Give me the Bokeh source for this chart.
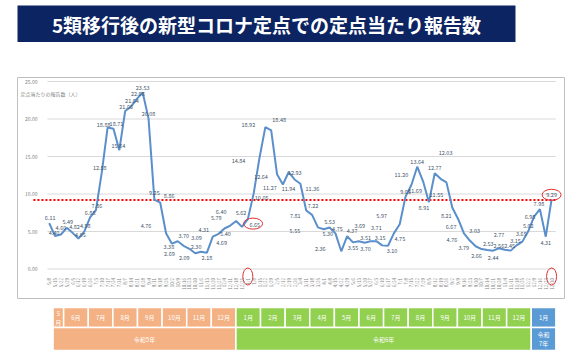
import pandas as pd
from bokeh.plotting import figure
from bokeh.layouts import column
from bokeh.models import (LinearAxis, FixedTicker, NumeralTickFormatter, Range1d,
                          ColumnDataSource)
from bokeh.core.properties import value
from bokeh.embed import file_html
from bokeh.resources import INLINE

FONT = "Noto Sans CJK JP"

# ---------------- data ----------------
title_text = "5類移行後の新型コロナ定点での定点当たり報告数"
axis_title = "定点当たりの報告数（人）"

values = [6.11, 4.40, 4.60, 5.49, 4.82, 4.05, 4.98, 6.88, 7.86, 12.88,
          18.88, 18.71, 15.84, 21.06, 21.64, 22.68, 23.53, 20.08, 9.25, 8.86,
          4.76, 3.38, 3.70, 3.09, 2.69, 2.09, 2.30, 2.18, 4.31, 4.69,
          5.40, 5.79, 6.40, 5.62, 6.65, 10.05, 14.84, 18.92, 18.48, 12.64,
          11.27, 12.93, 11.94, 11.36, 7.81, 7.22, 5.55, 5.30, 5.53, 4.75,
          2.36, 4.37, 3.55, 3.69, 3.51, 3.70, 3.71, 3.15, 3.10, 4.75,
          5.97, 9.65, 11.20, 13.64, 11.69, 8.91, 12.77, 12.03, 11.55, 8.21,
          6.67, 4.76, 3.79, 3.03, 2.66, 2.53, 2.44, 2.77, 2.56, 2.45,
          3.15, 3.65, 5.02, 6.98, 7.98, 4.31, 9.29]

week_start = pd.date_range("2023-05-08", periods=len(values), freq="7D")
tick_labels = [f"{d.month}/{d.day}" for d in week_start]
highlight_idx = [34, len(values) - 1]
threshold = 9.2
y_ticks = [0, 5, 10, 15, 20, 25]

months_r5 = ["5\n月", "6月", "7月", "8月", "9月", "10月", "11月", "12月"]
months_r6 = ["1月", "2月", "3月", "4月", "5月", "6月", "7月", "8月", "9月",
             "10月", "11月", "12月"]
months_r7 = ["1月"]
years = ["令和5年", "令和6年", "令和\n7年"]

# -------------- label placement (screen px offsets, layout only) -------
lbl_dx = [1, -1, 0, 1, 2, 2, 1, 0, 1, -2,
          -4, 3, -1, 1, 1, 1, 0, 0, 0, 9,
          -20, -3, 6, 13, -20, -11, -5, 0, -9, 3,
          1, -14, -15, -1, 7, 8, -21, -17, 8, -16,
          -13, 6, -6, 12, -11, 1, -23, 4, 0, 2,
          -21, 5, 0, 1, 1, -5, 0, -2, 4, 6,
          -18, 0, -10, 0, -8, -5, 0, 5, -10, -6,
          -7, -12, -6, -1, -5, 1, 0, 0, -6, -1,
          -1, -1, 0, -4, -1, 0, 0]
lbl_dy = [-6, -4, -7, -6, -6, -4, -6, -5, -5, -5,
          -3, -5, -5, -5, -6, -5, -5, -5, -7, -7,
          -8, 3, -6, -8, 5, 4, -5, 5, -7, 9,
          5, -8, -10, -14, 5, 4, 3, -3, -11, 2,
          3, 0, 9, 5, 5, -9, 3, 4, -6, -5,
          -3, -6, 5, -16, -5, 7, -14, -8, 5, 5,
          -9, -5, -11, -5, 9, 5, -6, -26, 12, 8,
          8, 6, 7, -16, 6, -7, 7, -14, -4, -5,
          -5, -8, -6, 0, -6, 6, -5]

LINE_COLOR = "#5a8fcb"
LABEL_COLOR = "#44546a"

xs = list(range(len(values)))
n = len(values)

# ---------------- title bar ----------------
pt = figure(width=520, height=42, x_range=Range1d(0, 1), y_range=Range1d(0, 1),
            output_backend="svg", toolbar_location=None,
            x_axis_type=None, y_axis_type=None,
            min_border_left=5, min_border_top=5, min_border_right=5,
            min_border_bottom=0, background_fill_color="#0c2461",
            border_fill_color="white", outline_line_color=None)
pt.grid.visible = False
pt.text(x=[0.5], y=[0.5], text=[title_text], text_align="center",
        text_baseline="middle", text_color="white", text_font_size="19px",
        text_font=value(FONT), text_font_style="bold")

# ---------------- main chart ----------------
sx = 5.895
sy = 7.5
x0_px = 32.0   # from frame left to first point
p = figure(width=569, height=264, output_backend="svg", toolbar_location=None,
           x_range=Range1d(-x0_px / sx, (552 - x0_px) / sx),
           y_range=Range1d(-29.5 / sy, 25 + 4.0 / sy),
           x_axis_type=None, y_axis_type=None,
           min_border_left=17, min_border_right=0, min_border_top=35,
           min_border_bottom=8, outline_line_color="#bfbfbf",
           background_fill_color="white", border_fill_color="white")
p.grid.visible = False

# gridlines
p.segment(x0=[-0.3] * len(y_ticks), x1=[n - 1 + 0.7] * len(y_ticks),
          y0=y_ticks, y1=y_ticks, line_color="#d9d9d9", line_width=1)

yaxis = LinearAxis(fixed_location=-0.3, ticker=FixedTicker(ticks=y_ticks),
                   formatter=NumeralTickFormatter(format="0.00"),
                   major_label_text_font_size="5px",
                   major_label_text_color="#7f7f7f",
                   major_label_text_font=FONT,
                   major_label_standoff=4,
                   axis_line_color=None, major_tick_line_color=None,
                   minor_tick_line_color=None)
p.add_layout(yaxis, "left")

xaxis = LinearAxis(fixed_location=0, ticker=FixedTicker(ticks=xs),
                   major_label_overrides={i: t for i, t in enumerate(tick_labels)},
                   major_label_orientation=1.5708,
                   major_label_text_font_size="4.5px",
                   major_label_text_color="#7f7f7f",
                   major_label_text_font=FONT,
                   major_label_standoff=3,
                   axis_line_color=None, major_tick_line_color=None,
                   minor_tick_line_color=None)
p.add_layout(xaxis, "below")

# threshold dotted red line
p.segment(x0=[-2.7], x1=[n - 1 + 1.0], y0=[threshold], y1=[threshold],
          line_color="#ff0000", line_width=2, line_dash="2 2")

p.line(xs, values, line_color=LINE_COLOR, line_width=2)

src = ColumnDataSource(dict(x=xs, y=values, t=[f"{v:.2f}" for v in values],
                            dx=lbl_dx, dy=lbl_dy))
p.text(x="x", y="y", text="t", x_offset="dx", y_offset="dy", source=src,
       text_align="center", text_baseline="middle", text_font_size="5.5px",
       text_color=LABEL_COLOR, text_font=value(FONT))

# axis title
p.text(x=[-4.9], y=[23.4], text=[axis_title], text_align="left",
       text_baseline="middle", text_font_size="5px", text_color="#7f7f7f",
       text_font=value(FONT))

# red highlight ellipses (labels and tick labels)
p.ellipse(x=[highlight_idx[0] + 0.9, highlight_idx[1]],
          y=[values[highlight_idx[0]] - 0.6, values[highlight_idx[1]] + 0.6],
          width=19, height=11, width_units="screen", height_units="screen",
          fill_color=None, line_color="#e03030", line_width=1)
p.ellipse(x=highlight_idx, y=[-1.0, -1.0], width=10, height=17,
          width_units="screen", height_units="screen",
          fill_color=None, line_color="#e03030", line_width=1)

# ---------------- month bar ----------------
unit = 25.6
start_px = 37.0
span5 = 0.43
cells, cols, lefts, rights = [], [], [], []
pos = 0.0
for yi, (mlist, col) in enumerate([(months_r5, "#f4b183"), (months_r6, "#92d050"),
                                   (months_r7, "#5b9bd5")]):
    for mi, m in enumerate(mlist):
        w = span5 if (yi == 0 and mi == 0) else 1.0
        cells.append(m); cols.append(col); lefts.append(pos); rights.append(pos + w)
        pos += w

pm = figure(width=569, height=48, output_backend="svg", toolbar_location=None,
            x_range=Range1d(-start_px / unit, (569 - start_px) / unit),
            y_range=Range1d(0, 48), x_axis_type=None, y_axis_type=None,
            min_border=0, outline_line_color=None)
pm.grid.visible = False
pm.quad(left=lefts, right=rights, bottom=27, top=47, fill_color=cols,
        line_color="white", line_width=1.5)
pm.text(x=[(a + b) / 2 for a, b in zip(lefts, rights)], y=[37] * len(cells),
        text=cells, text_align="center", text_baseline="middle",
        text_font_size="6px", text_color="white", text_font=value(FONT),
        text_line_height=1.0)

year_counts = [len(months_r5), len(months_r6), len(months_r7)]
yl, yr, ycol = [], [], []
k = 0
for c, col in zip(year_counts, ["#f4b183", "#92d050", "#5b9bd5"]):
    yl.append(lefts[k]); yr.append(rights[k + c - 1]); ycol.append(col)
    k += c
pm.quad(left=yl, right=yr, bottom=4, top=27, fill_color=ycol,
        line_color="white", line_width=1.5)
pm.text(x=[(a + b) / 2 for a, b in zip(yl, yr)], y=[15.5] * 3, text=years,
        text_align="center", text_baseline="middle", text_font_size="6px",
        text_color="white", text_font=value(FONT), text_line_height=1.1)

layout = column(pt, p, pm, spacing=0)
open("out.html", "w").write(file_html(layout, INLINE))
